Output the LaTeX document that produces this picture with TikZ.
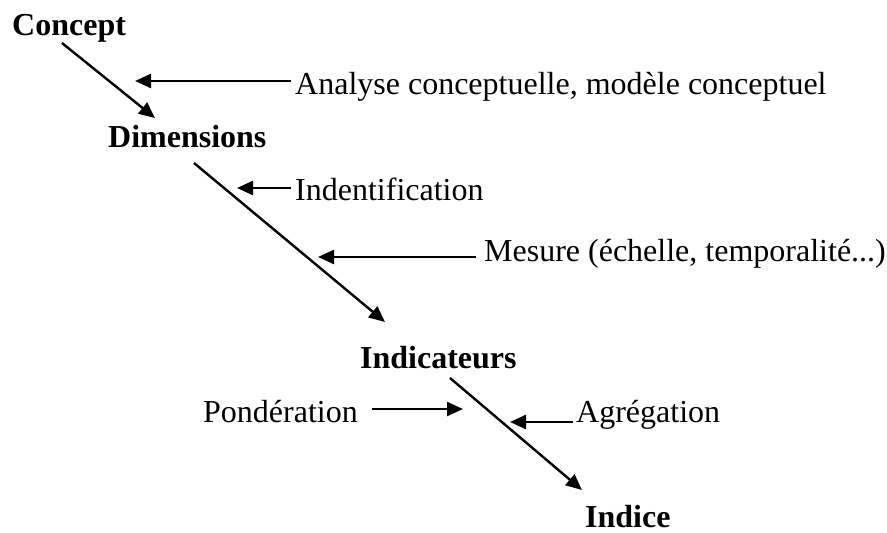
\documentclass[tikz,border=0pt]{standalone}
\usepackage{fontspec}
\setmainfont{Liberation Serif}
\usetikzlibrary{arrows.meta}
\begin{document}
\begin{tikzpicture}[x=1pt,y=-1pt,
  lbl/.style={anchor=base west,inner sep=0pt,font=\fontsize{32}{38}\selectfont},
  head/.style={lbl,font=\fontsize{32}{38}\selectfont\bfseries},
  arr/.style={line width=2.4pt,-{Triangle[length=16pt,width=14pt]}}]
\useasboundingbox (0,0) rectangle (887,533);
\node[head] (concept) at (12,35) {Concept};
\node[head] (dims) at (108,147) {Dimensions};
\node[head] (indic) at (360,368) {Indicateurs};
\node[head] (indice) at (585,527) {Indice};
\node[lbl] (analyse) at (295,94) {Analyse conceptuelle, modèle conceptuel};
\node[lbl] (ident) at (295,200) {Indentification};
\node[lbl] (mesure) at (484,261) {Mesure (échelle, temporalité...)};
\node[lbl] (pond) at (203,422) {Pondération};
\node[lbl] (agreg) at (576,422) {Agrégation};
% line endpoints
\coordinate (c1) at (62,43);
\coordinate (c2) at (155,118);
\coordinate (d1) at (194,163);
\coordinate (d2) at (385,322);
\coordinate (i1) at (450,378);
\coordinate (i2) at (582,490);
\draw[arr] (c1) -- (c2);
\draw[arr] (d1) -- (d2);
\draw[arr] (i1) -- (i2);
% side arrows
\coordinate (a1) at (291,81);
\coordinate (a2) at (135,81);
\coordinate (e1) at (291,188);
\coordinate (e2) at (237,188);
\coordinate (m1) at (476,257);
\coordinate (m2) at (318,257);
\coordinate (p1) at (372,409);
\coordinate (p2) at (463,409);
\coordinate (g1) at (573,422);
\coordinate (g2) at (510,422);
\draw[arr] (a1) -- (a2);
\draw[arr] (e1) -- (e2);
\draw[arr] (m1) -- (m2);
\draw[arr] (p1) -- (p2);
\draw[arr] (g1) -- (g2);
\end{tikzpicture}
\end{document}
